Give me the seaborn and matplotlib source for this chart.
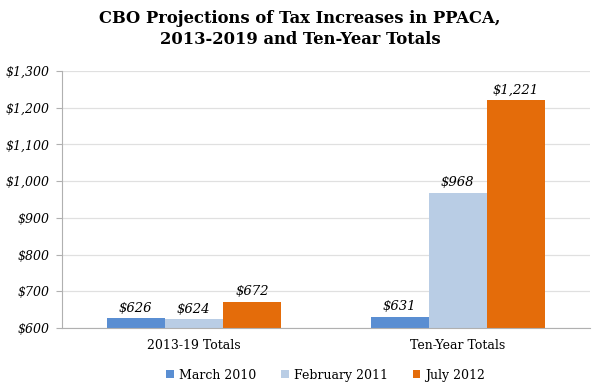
import pandas as pd
import matplotlib
matplotlib.use("Agg")
import matplotlib.pyplot as plt
import seaborn as sns

categories = ["2013-19 Totals", "Ten-Year Totals"]
series = ["March 2010", "February 2011", "July 2012"]
march_2010 = [626, 631]
february_2011 = [624, 968]
july_2012 = [672, 1221]
colors = ["#5a8ed2", "#b9cde5", "#e46c0a"]

df = pd.DataFrame({
    "category": categories * 3,
    "series": [s for s in series for _ in categories],
    "value": march_2010 + february_2011 + july_2012,
})

sns.set_style("white")
plt.rcParams["font.family"] = ["DejaVu Serif"]
plt.rcParams["text.color"] = "black"
plt.rcParams["xtick.color"] = "black"
plt.rcParams["ytick.color"] = "black"

fig = plt.figure(figsize=(6, 3.9), dpi=100)
ax = fig.add_axes([0.103, 0.159, 0.88, 0.659])

sns.barplot(data=df, x="category", y="value", hue="series", palette=colors,
            width=0.66, gap=0, saturation=1, linewidth=0, ax=ax)

ax.set_ylim(600, 1300)
ax.set_yticks(range(600, 1301, 100))
ax.set_yticklabels(["${:,}".format(v) for v in range(600, 1301, 100)],
                   fontstyle="italic", fontsize=9)
ax.tick_params(axis="x", labelsize=9, length=0, pad=8)
ax.tick_params(axis="y", length=4, color="#b0b0b0", labelcolor="black", left=True, pad=5)
ax.set_xlabel("")
ax.set_ylabel("")
ax.grid(axis="y", color="#e0e0e0", linewidth=0.9)
ax.set_axisbelow(True)
for side in ["top", "right"]:
    ax.spines[side].set_visible(False)
ax.spines["left"].set_color("#b0b0b0")
ax.spines["bottom"].set_color("#b0b0b0")

for cont in ax.containers:
    for bar in cont:
        h = bar.get_height()
        ax.text(bar.get_x() + bar.get_width() / 2, h + 10, "${:,.0f}".format(h),
                ha="center", va="bottom", fontstyle="italic", fontsize=9.5)

ax.legend(loc="upper center", bbox_to_anchor=(0.5, -0.115), ncol=3, frameon=False,
          fontsize=9, handlelength=0.6, handleheight=0.6, handletextpad=0.4,
          columnspacing=2.0)

fig.suptitle("CBO Projections of Tax Increases in PPACA,\n2013-2019 and Ten-Year Totals",
             y=0.975, fontsize=11.8, fontweight="bold", linespacing=1.3)

fig.savefig("out.png", dpi=100)
